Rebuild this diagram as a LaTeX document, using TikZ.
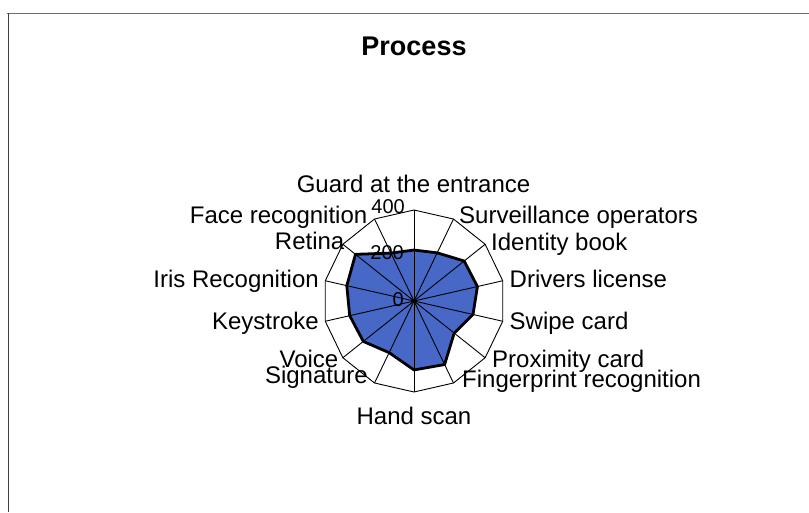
\documentclass[tikz,border=0pt]{standalone}
\usepackage{fontspec}
\setmainfont{Liberation Sans}
\definecolor{seriesblue}{RGB}{72,104,200}
\definecolor{framegray}{RGB}{110,110,110}
\begin{document}
\begin{tikzpicture}[x=1pt,y=-1pt,
  catlabel/.style={font=\fontsize{24}{28}\selectfont, inner sep=0pt},
  ticklabel/.style={font=\fontsize{20}{24}\selectfont, inner sep=0pt, anchor=east},
  titlelabel/.style={font=\bfseries\fontsize{27}{32}\selectfont, inner sep=0pt},
  spoke/.style={black, line width=0.9pt},
  gridline/.style={black, line width=0.9pt, line join=miter},
  seriesline/.style={black, line width=2.8pt, line join=round}]
\useasboundingbox (0,0) rectangle (809,512);
\fill[white] (0,0) rectangle (809,512);

% page frame
\draw[framegray, line width=1pt] (7,13) -- (809,13);
\draw[black!75, line width=1pt] (8.5,13) -- (8.5,512);

% chart title
\node[titlelabel, anchor=base] (title) at (414,55) {Process};

% radar geometry: centre, outer radius 91 for the value 400
\coordinate (c) at (414,301);
\foreach \k in {0,...,13}
  \path (c) ++({91*sin(\k*360/14)},{-91*cos(\k*360/14)}) coordinate (v\k);
\foreach \val [count=\k from 0] in {224,235,282,286,266,226,310,303,252,285,290,303,329,234}
  \path (c) ++({\val/400*91*sin(\k*360/14)},{-\val/400*91*cos(\k*360/14)}) coordinate (d\k);

% outer gridline
\draw[gridline] (v0) \foreach \k in {1,...,13}{ -- (v\k)} -- cycle;
% filled series
\fill[seriesblue] (d0) \foreach \k in {1,...,13}{ -- (d\k)} -- cycle;
% category axes
\foreach \k in {0,...,13} \draw[spoke] (c) -- (v\k);
% series outline
\draw[seriesline] (d0) \foreach \k in {1,...,13}{ -- (d\k)} -- cycle;

% value axis labels
\node[ticklabel] (t0) at (404,300) {0};
\node[ticklabel] (t200) at (404,253) {200};
\node[ticklabel] (t400) at (405,207) {400};

% category labels
\node[catlabel, anchor=base] (l0) at (413.5,192.5) {Guard at the entrance};
\node[catlabel, anchor=base west] (l1) at (459,223) {Surveillance operators};
\node[catlabel, anchor=base west] (l2) at (491,250) {Identity book};
\node[catlabel, anchor=base west] (l3) at (509.5,287.5) {Drivers license};
\node[catlabel, anchor=base west] (l4) at (509.5,329.5) {Swipe card};
\node[catlabel, anchor=base west] (l5) at (492,367.5) {Proximity card};
\node[catlabel, anchor=base west] (l6) at (462,387.5) {Fingerprint recognition};
\node[catlabel, anchor=base] (l7) at (414,424) {Hand scan};
\node[catlabel, anchor=base east] (l8) at (368,383) {Signature};
\node[catlabel, anchor=base east] (l9) at (338.5,367.5) {Voice};
\node[catlabel, anchor=base east] (l10) at (319,329.5) {Keystroke};
\node[catlabel, anchor=base east] (l11) at (319,287.5) {Iris Recognition};
\node[catlabel, anchor=base east] (l12) at (344.5,249) {Retina};
\node[catlabel, anchor=base east] (l13) at (367.5,223) {Face recognition};
\end{tikzpicture}
\end{document}
